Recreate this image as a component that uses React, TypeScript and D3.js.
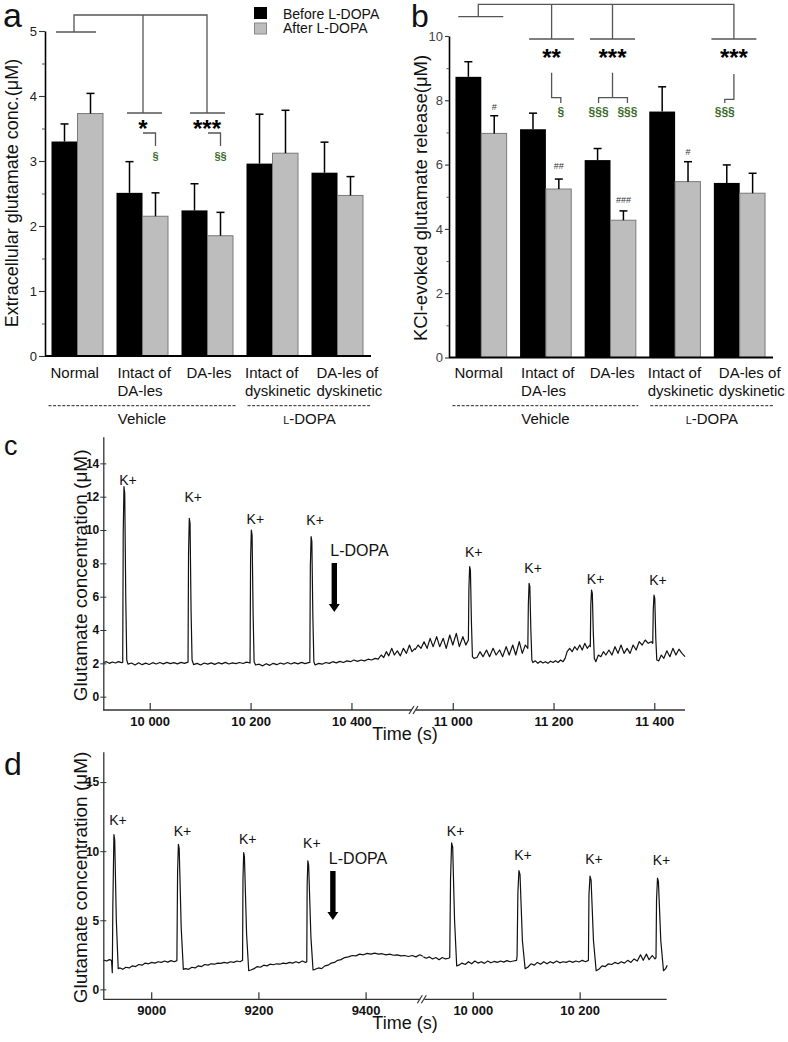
import React, { useEffect, useRef } from "react";
import * as d3 from "d3";

const FONT = "'Liberation Sans', Arial, Helvetica, sans-serif";

// ---------- bar panels (a, b) ----------
const categories = ["Normal", "Intact of DA-les", "DA-les", "Intact of dyskinetic", "DA-les of dyskinetic"];
const categoryLines = [["Normal"], ["Intact of", "DA-les"], ["DA-les"], ["Intact of", "dyskinetic"], ["DA-les of", "dyskinetic"]];
const seriesNames = ["Before L-DOPA", "After L-DOPA"];
const treatmentNames = ["Vehicle", "L-DOPA"];
const treatmentSpans = [[0, 2], [3, 4]];

const aBefore = [3.3, 2.51, 2.24, 2.96, 2.82];
const aBeforeSem = [0.27, 0.48, 0.41, 0.76, 0.47];
const aAfter = [3.73, 2.15, 1.85, 3.12, 2.47];
const aAfterSem = [0.31, 0.36, 0.36, 0.66, 0.29];
const aTicks = [0, 1, 2, 3, 4, 5];
const aMinorTicks = [0.5, 1.5, 2.5, 3.5, 4.5];

const bBefore = [8.73, 7.1, 6.14, 7.65, 5.43];
const bBeforeSem = [0.47, 0.5, 0.36, 0.77, 0.56];
const bAfter = [6.97, 5.24, 4.27, 5.47, 5.11];
const bAfterSem = [0.55, 0.31, 0.29, 0.62, 0.62];
const bTicks = [0, 2, 4, 6, 8, 10];
const bMinorTicks = [1, 3, 5, 7, 9];
const bHashes = ["#", "##", "###", "#", ""];

// ---------- trace panels (c, d) ----------
const cYTicks = [0, 2, 4, 6, 8, 10, 12, 14];
const cXTicksLeft = [10000, 10200, 10400];
const cXTicksRight = [11000, 11200, 11400];
const cPeakTimes = [9948, 10077.5, 10200.5, 10319, 11032.5, 11150.5, 11274.5, 11398.5];
const cLdopaTime = 10365;

const cTraceLeft: [number, number][] = [
  [9907, 2.05], [9913, 2.1], [9919, 2.0], [9925, 2.08], [9931, 2.02], [9937, 2.1], [9943, 2.04], [9945.5, 2.06],
  [9946.5, 9.8], [9948, 12.6], [9949.5, 12.2], [9951.5, 6.0], [9953.5, 2.2], [9956, 1.95], [9963, 2.02], [9970, 1.9],
  [9977, 2.03], [9984, 1.92], [9991, 2.01], [9998, 1.93], [10005, 2.04], [10012, 1.96], [10019, 2.05], [10026, 1.97],
  [10033, 2.06], [10040, 1.98], [10047, 2.04], [10054, 1.97], [10061, 2.06], [10068, 2.0], [10075, 2.07],
  [10076, 8.6], [10077.5, 10.7], [10079, 10.4], [10081, 5.2], [10083, 2.2], [10086, 1.92], [10093, 2.0], [10100, 1.9],
  [10107, 2.02], [10114, 1.95], [10121, 2.03], [10128, 1.94], [10135, 2.04], [10142, 1.97], [10149, 2.06], [10156, 1.96],
  [10163, 2.03], [10170, 1.98], [10177, 2.05], [10184, 1.99], [10191, 2.07], [10198, 2.02],
  [10199, 8.2], [10200.5, 10.0], [10202, 9.7], [10204, 5.0], [10206, 2.1], [10209, 1.9], [10216, 1.95], [10223, 1.85],
  [10230, 1.98], [10237, 1.88], [10244, 2.0], [10251, 1.92], [10258, 2.02], [10265, 1.95], [10272, 2.05], [10279, 1.96],
  [10286, 2.04], [10293, 1.97], [10300, 2.06], [10307, 1.98], [10314, 2.04], [10316.5, 2.05],
  [10317.5, 7.8], [10319, 9.6], [10320.5, 9.3], [10322.5, 4.8], [10324.5, 2.1], [10327, 1.9], [10334, 2.0], [10341, 1.95],
  [10348, 2.05], [10355, 2.0], [10362, 2.1], [10369, 2.03], [10376, 2.12], [10383, 2.05], [10390, 2.15], [10397, 2.1],
  [10404, 2.2], [10411, 2.12], [10418, 2.2], [10425, 2.15], [10432, 2.25], [10439, 2.2], [10446, 2.3], [10452, 2.25],
  [10458, 2.5], [10463, 2.35], [10468, 2.7], [10473, 2.45], [10479, 2.9], [10484, 2.5], [10490, 2.75], [10496, 2.45],
  [10502, 2.9], [10508, 2.6], [10514, 3.1], [10519, 2.7], [10525, 2.9],
];

const cTraceRight: [number, number][] = [
  [10924, 2.8], [10930, 3.1], [10936, 2.9], [10942, 3.3], [10948, 2.9], [10954, 3.5], [10960, 3.0], [10967, 3.6],
  [10973, 3.0], [10980, 3.5], [10986, 2.9], [10993, 3.7], [10999, 3.1], [11006, 3.8], [11012, 3.0], [11019, 3.6],
  [11025, 3.1], [11030, 3.4], [11031, 6.5], [11032.5, 7.8], [11034, 7.6], [11036, 4.5], [11038, 2.4], [11041, 2.3],
  [11047, 2.35], [11053, 2.7], [11059, 2.4], [11066, 2.8], [11072, 2.4], [11079, 2.9], [11085, 2.5], [11092, 2.8],
  [11098, 2.4], [11105, 3.0], [11111, 2.5], [11118, 3.1], [11124, 2.5], [11131, 3.3], [11137, 2.6], [11143, 3.1],
  [11148, 2.9], [11149, 5.5], [11150.5, 6.8], [11152, 6.6], [11154, 4.0], [11156, 2.2], [11158, 2.05], [11163, 2.15],
  [11168, 2.0], [11173, 2.12], [11178, 2.02], [11183, 2.1], [11188, 2.0], [11193, 2.13], [11198, 2.05], [11203, 2.15],
  [11208, 2.05], [11213, 2.2], [11218, 2.1], [11222, 2.3], [11226, 2.7], [11231, 2.9], [11236, 2.7], [11241, 3.0],
  [11246, 2.8], [11251, 3.1], [11256, 2.8], [11261, 3.2], [11266, 2.9], [11271, 3.1], [11272, 3.0], [11273, 5.5],
  [11274.5, 6.4], [11276, 6.2], [11278, 3.8], [11280, 2.3], [11283, 2.1], [11288, 2.5], [11293, 2.4], [11298, 2.7],
  [11303, 2.5], [11309, 2.8], [11315, 2.5], [11321, 3.0], [11327, 2.6], [11333, 3.1], [11339, 2.6], [11345, 2.9],
  [11351, 2.6], [11357, 3.1], [11363, 2.8], [11369, 3.3], [11375, 3.1], [11381, 3.4], [11387, 3.2], [11393, 3.3],
  [11396, 3.2], [11397, 5.2], [11398.5, 6.1], [11400, 5.9], [11402, 3.5], [11404, 2.2], [11408, 2.15], [11413, 2.5],
  [11418, 2.3], [11424, 2.75], [11430, 2.4], [11436, 2.9], [11442, 2.5], [11448, 2.85], [11454, 2.6], [11460, 2.4],
];

const dYTicks = [0, 5, 10, 15];
const dXTicksLeft = [9000, 9200, 9400];
const dXTicksRight = [10000, 10200];
const dPeakTimes = [8929.5, 9049.8, 9171.6, 9291.3, 9959.5, 10085.5, 10218.5, 10344.8];
const dLdopaTime = 9338;

const dTraceLeft: [number, number][] = [
  [8910, 2.12], [8916, 2.05], [8921, 2.15], [8925, 2.1], [8926.5, 1.2], [8927.5, 6.0], [8929.5, 11.2], [8931, 10.8],
  [8934, 5.0], [8937.5, 1.5], [8941, 1.55], [8946, 1.45], [8952, 1.6], [8958, 1.55], [8964, 1.7], [8970, 1.65],
  [8976, 1.8], [8982, 1.75], [8988, 1.9], [8994, 1.85], [9000, 1.95], [9006, 1.9], [9012, 2.0], [9018, 1.95],
  [9024, 2.05], [9030, 1.97], [9036, 2.08], [9042, 2.0], [9047, 2.08],
  [9048.3, 8.5], [9049.8, 10.5], [9051.3, 10.2], [9055, 4.5], [9059, 1.45], [9063, 1.5], [9069, 1.45], [9075, 1.6],
  [9081, 1.55], [9087, 1.7], [9093, 1.65], [9099, 1.8], [9105, 1.75], [9111, 1.85], [9117, 1.82], [9123, 1.9],
  [9129, 1.88], [9135, 1.95], [9141, 1.9], [9147, 2.0], [9153, 1.95], [9159, 2.05], [9165, 2.0], [9169.5, 2.1],
  [9170.3, 8.0], [9171.6, 9.9], [9173, 9.6], [9177, 4.0], [9181, 1.35], [9185, 1.4], [9191, 1.5], [9197, 1.65],
  [9203, 1.6], [9209, 1.75], [9215, 1.7], [9221, 1.82], [9227, 1.78], [9233, 1.85], [9239, 1.82], [9245, 1.9],
  [9251, 1.86], [9257, 1.95], [9263, 1.9], [9269, 2.0], [9275, 1.92], [9281, 2.05], [9287, 1.95], [9289.3, 2.0],
  [9290, 7.5], [9291.3, 9.3], [9292.8, 9.0], [9297, 3.8], [9301, 1.4], [9305, 1.45], [9311, 1.55], [9317, 1.5],
  [9323, 1.7], [9329, 1.75], [9335, 1.9], [9341, 1.95], [9347, 2.1], [9353, 2.15], [9360, 2.3], [9367, 2.35],
  [9374, 2.45], [9381, 2.42], [9388, 2.55], [9395, 2.5], [9402, 2.6], [9409, 2.55], [9416, 2.62], [9423, 2.55],
  [9430, 2.58], [9437, 2.5], [9444, 2.55], [9451, 2.47], [9458, 2.5], [9465, 2.42], [9472, 2.45], [9479, 2.38],
  [9486, 2.45], [9493, 2.35], [9500, 2.5], [9506, 2.4],
];

const dTraceRight: [number, number][] = [
  [9906.5, 2.35], [9912, 2.25], [9918, 2.35], [9924, 2.2], [9930, 2.3], [9936, 2.15], [9942, 2.3], [9948, 2.2],
  [9954, 2.25], [9956, 2.3], [9957.5, 8.0], [9959.5, 10.6], [9961.5, 10.3], [9965, 5.0], [9969, 1.7], [9973, 1.75],
  [9979, 1.9], [9985, 1.8], [9991, 2.0], [9997, 1.85], [10003, 2.05], [10009, 1.9], [10015, 2.0], [10021, 1.88],
  [10027, 2.05], [10033, 1.92], [10039, 2.02], [10045, 1.95], [10051, 2.05], [10057, 1.97], [10063, 2.08], [10069, 2.0],
  [10075, 2.05], [10081, 2.1], [10082, 2.4], [10083.5, 7.0], [10085.5, 8.6], [10087.5, 8.3], [10092, 3.5], [10097, 1.5],
  [10102, 1.6], [10108, 1.85], [10114, 1.75], [10120, 1.95], [10126, 1.82], [10132, 2.0], [10138, 1.85], [10144, 2.0],
  [10150, 1.9], [10156, 2.05], [10162, 1.92], [10168, 2.0], [10174, 1.95], [10180, 2.05], [10186, 1.95], [10192, 2.05],
  [10198, 1.98], [10204, 2.1], [10210, 2.0], [10215.5, 2.1], [10216.5, 6.8], [10218.5, 8.2], [10220.5, 7.9], [10225, 3.5],
  [10230, 1.35], [10235, 1.45], [10241, 1.7], [10247, 1.65], [10253, 1.85], [10259, 1.8], [10265, 1.95], [10271, 1.85],
  [10277, 2.0], [10283, 1.9], [10289, 2.1], [10295, 1.95], [10301, 2.2], [10307, 2.05], [10313, 2.5], [10318, 2.1],
  [10324, 2.55], [10329, 2.15], [10335, 2.45], [10340, 2.2], [10342, 2.3], [10343, 6.5], [10344.8, 8.05], [10346.5, 7.8],
  [10351, 3.5], [10356, 1.35], [10360, 1.5], [10363, 1.75],
];

const BLACK = "#000";
const GRAY = "#bdbdbd";
const LINE = "#555";
const GREEN = "#3b6b2b";

type G = d3.Selection<SVGGElement, unknown, null, undefined>;

const Axis = ({ axis, transform, tweak }: { axis: any; transform: string; tweak?: (g: G) => void }) => {
  const ref = useRef<SVGGElement>(null);
  useEffect(() => {
    const g = d3.select(ref.current as SVGGElement);
    g.call(axis);
    g.attr("font-family", FONT);
    if (tweak) tweak(g);
  });
  return <g ref={ref} transform={transform} />;
};

const LDopa = ({ x, y, size }: { x: number; y: number; size: number }) => (
  <text x={x} y={y} fontSize={size} textAnchor="middle" fill="#111">
    <tspan fontSize={size * 0.72}>L</tspan>-DOPA
  </text>
);

// left shift of each category's label block relative to its bar group
const labelShift = [-1, 1, 5, -1.5, 5];

const BarPanel = ({ x, y, before, beforeSem, after, afterSem, ticks, minorTicks, tickLen, minorLen, tickColor }: any) => {
  const bw = x.bandwidth() / 2;
  const [x0, x1] = x.range();
  const y0 = y.range()[0];
  const lPad = [3, -1];
  const rPad = [2, 8];
  return (
    <g>
      {categories.map((c: string, i: number) => (
        <g key={c}>
          <rect x={x(c)} y={y(before[i])} width={bw} height={y0 - y(before[i])} fill={BLACK} />
          <rect x={x(c) + bw} y={y(after[i])} width={bw - 0.5} height={y0 - y(after[i])} fill={GRAY} stroke="#7a7a7a" strokeWidth={1} />
          {[
            [x(c) + bw / 2, before[i], beforeSem[i]],
            [x(c) + bw * 1.5, after[i], afterSem[i]],
          ].map(([cx, v, s], j) => (
            <g key={j} stroke="#000" strokeWidth={1.5}>
              <line x1={cx} x2={cx} y1={y(v)} y2={y(v + s)} />
              <line x1={cx - 4} x2={cx + 4} y1={y(v + s)} y2={y(v + s)} />
            </g>
          ))}
          {categoryLines[i].map((t, k) => (
            <text key={k} x={x(c) + labelShift[i]} y={378 + k * 18} fontSize={15} fill="#111">
              {t}
            </text>
          ))}
        </g>
      ))}
      {treatmentSpans.map(([s, e], i) => {
        const l = x(categories[s]) - lPad[i];
        const r = x(categories[e]) + x.bandwidth() + rPad[i];
        return (
          <g key={i}>
            <line x1={l} x2={r} y1={405.7} y2={405.7} stroke="#222" strokeWidth={1} strokeDasharray="3,1.6" />
            {i === 0 ? (
              <text x={(l + r) / 2} y={424} fontSize={15} textAnchor="middle" fill="#111">{treatmentNames[0]}</text>
            ) : (
              <LDopa x={(l + r) / 2} y={424} size={15} />
            )}
          </g>
        );
      })}
      <line x1={x0} x2={x1 + 1} y1={y0} y2={y0} stroke="#000" strokeWidth={2} />
      <Axis
        axis={d3.axisLeft(y).tickValues(ticks).tickSize(tickLen).tickPadding(2).tickSizeOuter(0).tickFormat(d3.format("d"))}
        transform={`translate(${x0},0)`}
        tweak={(g) => {
          g.attr("font-size", 13);
          g.select(".domain").attr("stroke-width", 1.6);
          g.selectAll("text").attr("fill", tickColor);
          g.selectAll(".tick line").attr("stroke-width", 1.1).attr("stroke", "#333");
        }}
      />
      <Axis
        axis={d3.axisLeft(y).tickValues(minorTicks).tickSize(minorLen).tickFormat(() => "")}
        transform={`translate(${x0},0)`}
        tweak={(g) => {
          g.select(".domain").remove();
          g.selectAll(".tick line").attr("stroke-width", 1).attr("stroke", "#555");
        }}
      />
    </g>
  );
};

const fmtTime = (v: number) => (v >= 10000 ? d3.format(",")(v).replace(",", " ") : String(v));

const TracePanel = ({ y, xl, xr, left, right, yTicks, xTicksL, xTicksR, peaks, kOffsets, ldopaTime, ldopaY }: any) => {
  const base = y.range()[0];
  const top = y.range()[1];
  const bx = xl.range()[1];
  const xEnd = xr.range()[1];
  const all = left.concat(right);
  const xOf = (t: number) => (t <= xl.domain()[1] ? xl(t) : xr(t));
  const lineL = d3.line<[number, number]>().x((d) => xl(d[0])).y((d) => y(d[1]));
  const lineR = d3.line<[number, number]>().x((d) => xr(d[0])).y((d) => y(d[1]));
  const ax = xl(ldopaTime);
  const tip = ldopaY + 56;
  return (
    <g>
      <path d={lineL(left) || ""} fill="none" stroke="#111" strokeWidth={1.2} strokeLinejoin="round" />
      <path d={lineR(right) || ""} fill="none" stroke="#111" strokeWidth={1.2} strokeLinejoin="round" />
      {peaks.map((t: number, i: number) => {
        const pv = d3.max(all.filter((p: [number, number]) => Math.abs(p[0] - t) <= 3), (p: [number, number]) => p[1]) as number;
        return (
          <text key={i} x={xOf(t) + 4} y={y(pv) - kOffsets[i]} fontSize={14} textAnchor="middle" fill="#111">
            K+
          </text>
        );
      })}
      <text x={ax - 4} y={ldopaY} fontSize={16} fill="#111">L-DOPA</text>
      <polygon
        points={[
          [ax - 2.7, ldopaY + 7], [ax + 2.7, ldopaY + 7], [ax + 2.7, tip - 8], [ax + 5.5, tip - 8],
          [ax, tip], [ax - 5.5, tip - 8], [ax - 2.7, tip - 8],
        ].map((p) => p.join(",")).join(" ")}
        fill="#000"
      />
      <line x1={xl.range()[0]} x2={xEnd} y1={base} y2={base} stroke="#333" strokeWidth={1.3} />
      <rect x={bx - 3} y={base - 2} width={4} height={4} fill="#fff" />
      <line x1={bx - 6} x2={bx - 1} y1={base + 4} y2={base - 4} stroke="#333" strokeWidth={1.2} />
      <line x1={bx - 2} x2={bx + 3} y1={base + 4} y2={base - 4} stroke="#333" strokeWidth={1.2} />
      {[...xTicksL.map((t: number) => [xl(t), t]), ...xTicksR.map((t: number) => [xr(t), t])].map(([px, t]) => (
        <g key={t}>
          <line x1={px} x2={px} y1={base} y2={base - 7} stroke="#333" strokeWidth={1.2} />
          <text x={px} y={base + 16} fontSize={13} fontWeight="bold" textAnchor="middle" fill="#111">
            {fmtTime(t)}
          </text>
        </g>
      ))}
      <Axis
        axis={d3.axisLeft(y).tickValues(yTicks).tickSize(3).tickPadding(1).tickSizeOuter(0)}
        transform={`translate(${xl.range()[0]},0)`}
        tweak={(g) => {
          g.attr("font-size", 12).attr("font-weight", "bold");
          g.select(".domain").attr("stroke", "#333").attr("stroke-width", 1.3);
          g.selectAll(".tick line").attr("x2", -3).attr("x1", 3).attr("stroke", "#333");
          g.selectAll("text").attr("fill", "#111");
        }}
      />
      <text x={405} y={base + 30} fontSize={18} textAnchor="middle" fill="#111">Time (s)</text>
      <text transform={`translate(87,${(base + top) / 2 + 2}) rotate(-90)`} fontSize={19} textAnchor="middle" fill="#111">
        Glutamate concentration (μM)
      </text>
    </g>
  );
};

export default function App() {
  const xA = d3.scaleBand<string>().domain(categories).range([45, 370]).paddingInner(0.2).paddingOuter(0.1);
  const yA = d3.scaleLinear().domain([0, 5]).range([356, 31]);
  const xB = d3.scaleBand<string>().domain(categories).range([449, 772]).paddingInner(0.2).paddingOuter(0.1);
  const yB = d3.scaleLinear().domain([0, 10]).range([357.5, 36]);

  const cY = d3.scaleLinear().domain([-0.8, 15.6]).range([710, 436.7]);
  const cXL = d3.scaleLinear().domain([9907, 10525]).range([103.3, 415]);
  const cXR = d3.scaleLinear().domain([10924, 11460]).range([415, 685]);
  const dY = d3.scaleLinear().domain([-0.72, 17.2]).range([999.3, 751.7]);
  const dXL = d3.scaleLinear().domain([8909.7, 9506.7]).range([103.3, 423.3]);
  const dXR = d3.scaleLinear().domain([9906.5, 10362]).range([423.3, 666.7]);

  const cA = (i: number) => (xA(categories[i]) as number) + xA.bandwidth() / 2;
  const cB = (i: number) => (xB(categories[i]) as number) + xB.bandwidth() / 2;
  const qA = xA.bandwidth() / 4;
  const qB = xB.bandwidth() / 4;

  // significance brackets, panel a
  const aBr = [cA(0) - 3.5, cA(1) + 0.5, cA(2) - 0.5];
  // panel b
  const bBr = [cB(0) - 3, cB(1) + 5.7, cB(2) + 2, cB(4) - 5.8];

  return (
    <svg width={788} height={1042} style={{ position: "absolute", left: 0, top: 0, fontFamily: FONT, background: "#fff" }}>
      {/* panel a */}
      <text x={3} y={27} fontSize={34} fill="#111">a</text>
      <text transform="translate(17.5,193) rotate(-90)" fontSize={18} textAnchor="middle" fill="#111">
        Extracellular glutamate conc.(μM)
      </text>
      <BarPanel x={xA} y={yA} before={aBefore} beforeSem={aBeforeSem} after={aAfter} afterSem={aAfterSem}
        ticks={aTicks} minorTicks={aMinorTicks} tickLen={6} minorLen={3} tickColor="#222" />
      <g stroke={LINE} strokeWidth={1.3} fill="none">
        <path d={`M${aBr[0]},32V15H${aBr[2]}V113`} />
        <path d={`M${aBr[1]},15V113`} />
        <path d={`M${aBr[0] - 18},32H${aBr[0] + 22}`} />
        <path d={`M${aBr[1] - 16},113H${aBr[1] + 19}`} />
        <path d={`M${aBr[2] - 17},113H${aBr[2] + 18}`} />
        <path d={`M${aBr[1]},133H${cA(1) + qA}V146`} />
        <path d={`M${aBr[2] + 1},133H${cA(2) + qA}V146`} />
      </g>
      <text x={aBr[1]} y={137} fontSize={24} fontWeight="bold" textAnchor="middle">*</text>
      <text x={aBr[2]} y={137} fontSize={24} fontWeight="bold" textAnchor="middle">***</text>
      <text x={cA(1) + qA} y={160} fontSize={11} fontWeight="bold" textAnchor="middle" fill={GREEN}>§</text>
      <text x={cA(2) + qA} y={160} fontSize={11} fontWeight="bold" textAnchor="middle" fill={GREEN}>§§</text>
      <rect x={254} y={7} width={13} height={12} fill={BLACK} />
      <rect x={254.5} y={23} width={12} height={11} fill={GRAY} stroke="#888" />
      <text x={283} y={18.5} fontSize={14} fill="#111">{seriesNames[0]}</text>
      <text x={283} y={33} fontSize={14} fill="#111">{seriesNames[1]}</text>

      {/* panel b */}
      <text x={411} y={27} fontSize={32} fill="#111">b</text>
      <text transform="translate(427,198) rotate(-90)" fontSize={18.5} textAnchor="middle" fill="#111">
        KCl-evoked glutamate release(μM)
      </text>
      <BarPanel x={xB} y={yB} before={bBefore} beforeSem={bBeforeSem} after={bAfter} afterSem={bAfterSem}
        ticks={bTicks} minorTicks={bMinorTicks} tickLen={4} minorLen={2.5} tickColor="#444" />
      <g stroke={LINE} strokeWidth={1.3} fill="none">
        <path d={`M${bBr[0]},16.7V4.3H${bBr[3]}V39`} />
        <path d={`M${bBr[1]},4.3V39`} />
        <path d={`M${bBr[2]},4.3V39`} />
        <path d={`M${bBr[0] - 20},16.7H${bBr[0] + 25}`} />
        {[1, 2, 3].map((k) => (
          <path key={k} d={`M${bBr[k] - 22.5},39H${bBr[k] + 22.5}`} />
        ))}
        <path d={`M${bBr[1]},72.7V97.7H${cB(1) + qB + 2}V103`} />
        <path d={`M${bBr[2]},72.7V97.7`} />
        <path d={`M${cB(2) - qB + 1},103V97.7H${cB(2) + qB + 4}V103`} />
        <path d={`M${bBr[3]},74V99.3H${cB(4) - qB - 2}V103`} />
      </g>
      <text x={bBr[1]} y={65.7} fontSize={24} fontWeight="bold" textAnchor="middle">**</text>
      <text x={bBr[2]} y={65.7} fontSize={24} fontWeight="bold" textAnchor="middle">***</text>
      <text x={bBr[3]} y={65.7} fontSize={24} fontWeight="bold" textAnchor="middle">***</text>
      <g fontSize={12} fontWeight="bold" textAnchor="middle" fill={GREEN}>
        <text x={cB(1) + qB + 2} y={116}>§</text>
        <text x={cB(2) - qB + 1} y={116}>§§§</text>
        <text x={cB(2) + qB + 4} y={116}>§§§</text>
        <text x={cB(4) - qB - 2} y={116}>§§§</text>
      </g>
      {bHashes.map((h, i) =>
        h ? (
          <text key={i} x={cB(i) + qB} y={yB(bAfter[i] + bAfterSem[i]) - [6, 10, 8, 7][i]} fontSize={9}
            textAnchor="middle" fill="#333">{h}</text>
        ) : null
      )}

      {/* panel c */}
      <text x={4} y={455} fontSize={27} fill="#111">c</text>
      <TracePanel y={cY} xl={cXL} xr={cXR} left={cTraceLeft} right={cTraceRight} yTicks={cYTicks}
        xTicksL={cXTicksLeft} xTicksR={cXTicksRight} peaks={cPeakTimes}
        kOffsets={[2, 16, 6, 12, 10, 10, 6, 10]} ldopaTime={cLdopaTime} ldopaY={556} />

      {/* panel d */}
      <text x={4} y={775} fontSize={32} fill="#111">d</text>
      <TracePanel y={dY} xl={dXL} xr={dXR} left={dTraceLeft} right={dTraceRight} yTicks={dYTicks}
        xTicksL={dXTicksLeft} xTicksR={dXTicksRight} peaks={dPeakTimes}
        kOffsets={[9.5, 8, 8.5, 12.5, 7, 11, 12, 13]} ldopaTime={dLdopaTime} ldopaY={864} />
    </svg>
  );
}
